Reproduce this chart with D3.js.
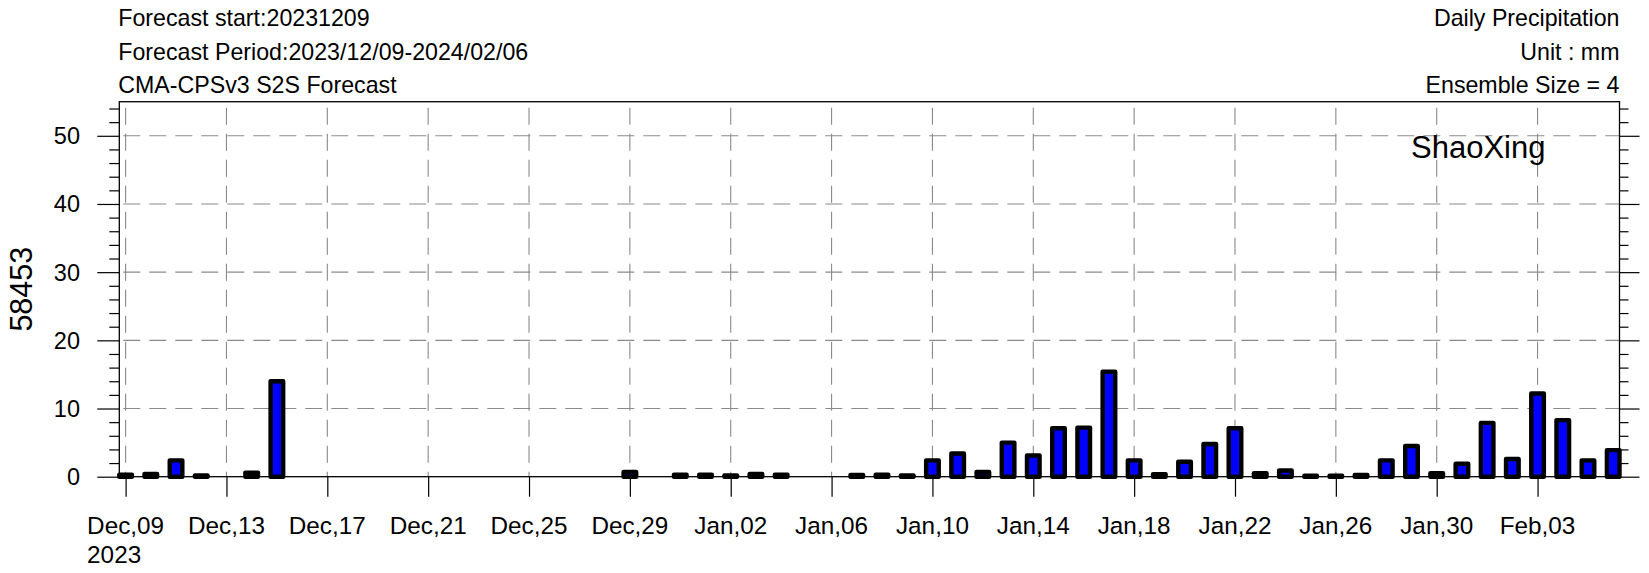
<!DOCTYPE html>
<html>
<head>
<meta charset="utf-8">
<script src="https://cdn.jsdelivr.net/npm/d3@7"></script>
<style>
  html, body { margin: 0; padding: 0; background: #fff; }
  svg { display: block; font-family: "Liberation Sans", Arial, Helvetica, sans-serif; }
</style>
</head>
<body>
<svg id="chart" width="1649" height="573"></svg>
<script>
// ---- data ----
const days = ["Dec09","Dec10","Dec11","Dec12","Dec13","Dec14","Dec15","Dec16","Dec17","Dec18",
  "Dec19","Dec20","Dec21","Dec22","Dec23","Dec24","Dec25","Dec26","Dec27","Dec28",
  "Dec29","Dec30","Dec31","Jan01","Jan02","Jan03","Jan04","Jan05","Jan06","Jan07",
  "Jan08","Jan09","Jan10","Jan11","Jan12","Jan13","Jan14","Jan15","Jan16","Jan17",
  "Jan18","Jan19","Jan20","Jan21","Jan22","Jan23","Jan24","Jan25","Jan26","Jan27",
  "Jan28","Jan29","Jan30","Jan31","Feb01","Feb02","Feb03","Feb04","Feb05","Feb06"];
const precip = [0.3,0.4,2.4,0.2,0,0.6,14.0,0,0,0,
  0,0,0,0,0,0,0,0,0,0,
  0.7,0,0.3,0.3,0.2,0.4,0.3,0,0,0.25,
  0.3,0.2,2.4,3.4,0.7,5.0,3.1,7.1,7.2,15.4,
  2.4,0.35,2.2,4.8,7.1,0.5,0.9,0.15,0.15,0.25,
  2.4,4.5,0.5,1.9,7.9,2.6,12.2,8.3,2.4,3.9];
const xTickDays = [0,4,8,12,16,20,24,28,32,36,40,44,48,52,56];
const xTickLabels = ["Dec,09","Dec,13","Dec,17","Dec,21","Dec,25","Dec,29","Jan,02","Jan,06",
  "Jan,10","Jan,14","Jan,18","Jan,22","Jan,26","Jan,30","Feb,03"];
const firstLabelYear = "2023";
const yMajorTicks = [0,10,20,30,40,50];
const yMinorTicks = [2,4,6,8,12,14,16,18,22,24,26,28,32,34,36,38,42,44,46,48,52,54];
const headerLeft = ["Forecast start:20231209","Forecast Period:2023/12/09-2024/02/06","CMA-CPSv3 S2S Forecast"];
const headerRight = ["Daily Precipitation","Unit : mm","Ensemble Size = 4"];
const stationId = "58453";
const stationName = "ShaoXing";

// ---- layout ----
const L = 119.3, R = 1619.5, T = 101.7, B = 476.7;
const svg = d3.select("#chart");
svg.append("rect").attr("width",1649).attr("height",573).attr("fill","#fff");

const x = d3.scaleLinear().domain([-0.25, days.length - 0.75]).range([L, R]);
const y = d3.scaleLinear().domain([0, 55]).range([B, T]);

// gridlines
const grid = svg.append("g").attr("stroke","#8a8a8a").attr("stroke-width",1.1)
  .attr("stroke-dasharray","17,9").attr("fill","none");
grid.selectAll("line.h").data(yMajorTicks.filter(d => d > 0)).join("line")
  .attr("x1", L + 4).attr("x2", R).attr("y1", d => y(d)).attr("y2", d => y(d));
grid.selectAll("line.v").data(xTickDays).join("line")
  .attr("x1", d => x(d)).attr("x2", d => x(d)).attr("y1", T + 6).attr("y2", B);

// bars
const bw = x(0.5) - x(0);
svg.append("g").selectAll("rect").data(precip.map((v,i)=>({v,i})).filter(d => d.v > 0)).join("rect")
  .attr("x", d => x(d.i) - bw/2)
  .attr("width", bw)
  .attr("y", d => y(d.v))
  .attr("height", d => y(0) - y(d.v))
  .attr("fill", "#0000ff")
  .attr("stroke", "#000")
  .attr("stroke-width", 4.4)
  .attr("stroke-linejoin", "round");

// axes
function styleAxis(g){ g.select(".domain").remove(); g.selectAll("line").attr("stroke","#000").attr("stroke-width",1.2); g.selectAll("text").remove(); }
svg.append("g").attr("transform",`translate(${L},0)`)
  .call(d3.axisLeft(y).tickValues(yMajorTicks).tickSize(22).tickSizeOuter(0)).call(styleAxis);
svg.append("g").attr("transform",`translate(${L},0)`)
  .call(d3.axisLeft(y).tickValues(yMinorTicks).tickSize(10).tickSizeOuter(0)).call(styleAxis);
svg.append("g").attr("transform",`translate(${R},0)`)
  .call(d3.axisRight(y).tickValues(yMajorTicks).tickSize(20).tickSizeOuter(0)).call(styleAxis);
svg.append("g").attr("transform",`translate(${R},0)`)
  .call(d3.axisRight(y).tickValues(yMinorTicks).tickSize(9).tickSizeOuter(0)).call(styleAxis);
svg.append("g").attr("transform",`translate(0,${B})`)
  .call(d3.axisBottom(x).tickValues(xTickDays).tickSize(20).tickSizeOuter(0)).call(styleAxis);

// frame
svg.append("rect").attr("x",L).attr("y",T).attr("width",R-L).attr("height",B-T)
  .attr("fill","none").attr("stroke","#000").attr("stroke-width",1.3);

// y labels
svg.append("g").selectAll("text").data(yMajorTicks).join("text")
  .attr("x", 80).attr("y", d => y(d)).attr("dy","0.36em")
  .attr("text-anchor","end").attr("font-size",23.5).text(d => d);

// x labels
const xl = svg.append("g").attr("font-size",24.3);
xl.selectAll("text.t").data(xTickDays).join("text")
  .attr("x", d => x(d)).attr("y", 534.3).attr("text-anchor","middle")
  .text((d,i) => xTickLabels[i]);
{
  const first = xl.select("text").node();
  const w = first.getComputedTextLength();
  xl.append("text").attr("x", x(xTickDays[0]) - w/2).attr("y", 562.7).text(firstLabelYear);
}

// y title
svg.append("text").attr("transform",`translate(31.5,${(T+B)/2}) rotate(-90)`)
  .attr("text-anchor","middle").attr("font-size",30.5).text(stationId);

// headers
svg.append("g").attr("font-size",23.2).selectAll("text").data(headerLeft).join("text")
  .attr("x", L - 1).attr("y", (d,i) => 26 + i*33.6).text(d => d);
svg.append("g").attr("font-size",23.2).attr("text-anchor","end").selectAll("text").data(headerRight).join("text")
  .attr("x", R).attr("y", (d,i) => 26 + i*33.6).text(d => d);

// station name
svg.append("text").attr("x",1411).attr("y",158).attr("font-size",31).text(stationName);
</script>
</body>
</html>
